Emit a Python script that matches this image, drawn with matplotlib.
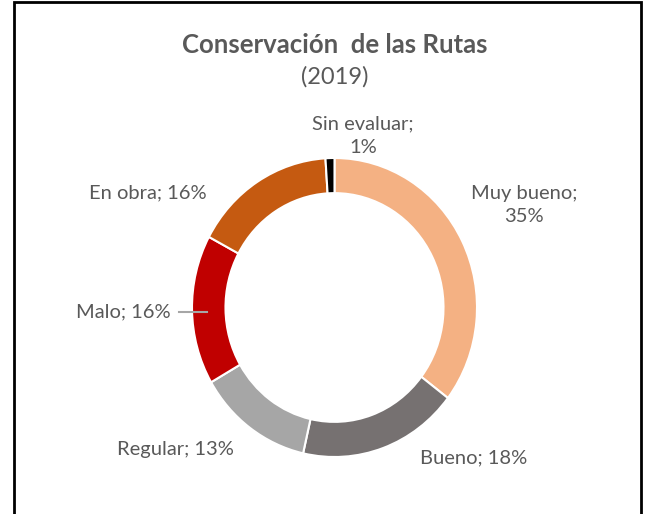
import numpy as np
import matplotlib
matplotlib.use('Agg')
import matplotlib.pyplot as plt
from matplotlib.patches import Rectangle

# Conservación de las Rutas (2019)
categorias = ['Muy bueno', 'Bueno', 'Regular', 'Malo', 'En obra', 'Sin evaluar']
porcentajes = [35, 18, 13, 16, 16, 1]
colores = ['#F4B183', '#767171', '#A6A6A6', '#C00000', '#C55A11', '#000000']

# posición de las etiquetas (px del lienzo) y si se parten en dos líneas
pos_etiquetas = [(524, 205), (474, 458), (175, 450), (123, 312), (148, 193), (363, 136)]
dos_lineas = [True, False, False, False, False, True]

W, H = 652, 514
cx, cy = 334.5, 307.5
rx, ry = 142.5, 149.5   # el anillo está algo estirado en vertical

plt.rcParams['font.family'] = ['Lato', 'DejaVu Sans']
gris = '#595959'

fig = plt.figure(figsize=(W / 100, H / 100), dpi=100)
ax = fig.add_axes([0, 0, 1, 1])

wedges, _ = ax.pie(porcentajes, colors=colores, startangle=90, counterclock=False,
                   radius=1, wedgeprops=dict(width=0.235, edgecolor='white', linewidth=1.5))
ax.set_aspect('auto')
ax.set_xlim(-cx / rx, (W - cx) / rx)
ax.set_ylim(-(H - cy) / ry, cy / ry)
ax.axis('off')


def px(x, y):
    return (x - cx) / rx, (cy - y) / ry


for cat, p, (x, y), dl in zip(categorias, porcentajes, pos_etiquetas, dos_lineas):
    sep = ';\n' if dl else '; '
    tx, ty = px(x, y)
    ax.text(tx, ty, f'{cat}{sep}{p}%', ha='center', va='center', fontsize=14.5,
            color=gris, linespacing=1.45)

# línea guía de "Malo"
x0, y0 = px(179, 312)
x1, y1 = px(207, 312)
ax.plot([x0, x1], [y0, y1], color='#A6A6A6', lw=1.5)

fig.text(cx / W, 1 - 45 / H, 'Conservación  de las Rutas', ha='center', va='center',
         fontsize=18.5, fontweight='bold', color=gris)
fig.text(cx / W, 1 - 77 / H, '(2019)', ha='center', va='center', fontsize=17, color=gris)

# marco
fig.patches.append(Rectangle((14 / W, -0.02), (641 - 14) / W, 1 - 2 / H + 0.02,
                             transform=fig.transFigure, fill=False, edgecolor='black',
                             linewidth=2))

fig.savefig('out.png', dpi=100)
